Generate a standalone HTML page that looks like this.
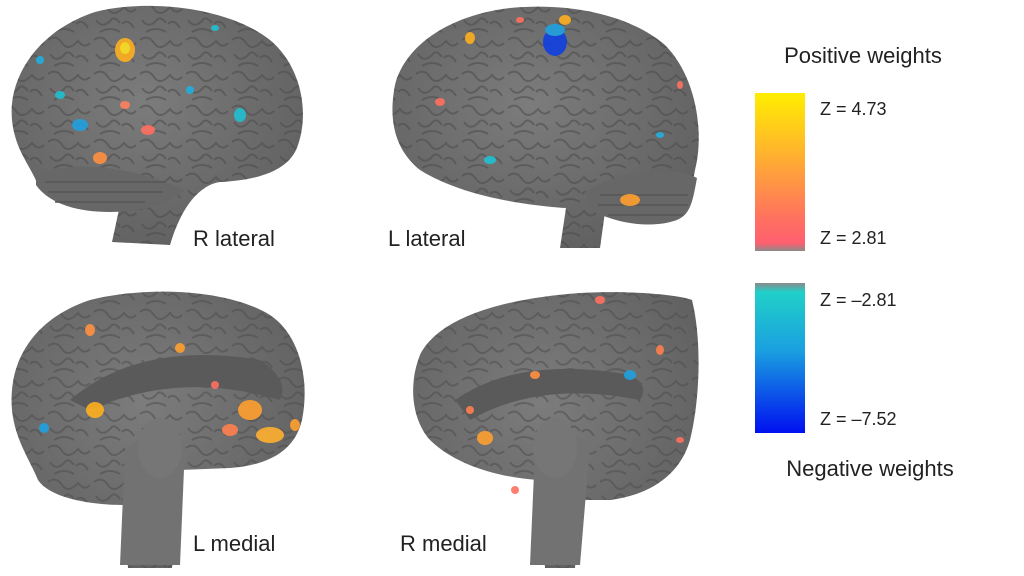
<!DOCTYPE html>
<html><head><meta charset="utf-8"><style>
html,body{margin:0;padding:0;background:#fff;width:1024px;height:576px;overflow:hidden}
svg{display:block}
text{font-family:"Liberation Sans",sans-serif;fill:#222}
</style></head><body>
<svg width="1024" height="576" viewBox="0 0 1024 576">
<defs>
<linearGradient id="pos" x1="0" y1="0" x2="0" y2="1">
<stop offset="0" stop-color="#ffee00"/><stop offset="0.4" stop-color="#ffb030"/><stop offset="0.8" stop-color="#ff7060"/><stop offset="0.95" stop-color="#ff6070"/><stop offset="1" stop-color="#8a8a8a"/></linearGradient>
<linearGradient id="neg" x1="0" y1="0" x2="0" y2="1">
<stop offset="0" stop-color="#8a8a8a"/><stop offset="0.06" stop-color="#20d0c8"/><stop offset="0.45" stop-color="#1aa0e0"/><stop offset="1" stop-color="#0010f0"/></linearGradient>
<pattern id="sulci" width="46" height="34" patternUnits="userSpaceOnUse">
<path d="M2 6 q8 -6 14 3 t16 -2 q6 8 12 2 M4 20 q6 9 14 1 q4 -6 10 2 M30 24 q6 -6 12 4 M8 32 q10 -6 20 0" stroke="#4e4e4e" stroke-width="2" fill="none"/>
</pattern>
<radialGradient id="shade" cx="0.45" cy="0.4" r="0.7"><stop offset="0" stop-color="#7c7c7c"/><stop offset="1" stop-color="#5e5e5e"/></radialGradient>
</defs>

<!-- R lateral -->
<g>
<path id="b1" d="M112 242 L120 205 C90 212 50 205 38 185 C30 165 15 150 12 120 C8 75 40 30 95 12 C150 -2 230 8 270 40 C300 65 310 110 298 145 C290 170 260 180 220 182 C200 185 182 205 170 245 Z" fill="url(#shade)"/>
<path d="M112 242 L120 205 C90 212 50 205 38 185 C30 165 15 150 12 120 C8 75 40 30 95 12 C150 -2 230 8 270 40 C300 65 310 110 298 145 C290 170 260 180 220 182 C200 185 182 205 170 245 Z" fill="url(#sulci)" opacity="0.6"/>
<path d="M36 175 C70 160 130 165 185 190 C170 205 140 212 110 212 C80 212 50 205 36 185Z" fill="#676767"/>
<path d="M45 182 h120 M48 192 h115 M55 202 h90" stroke="#565656" stroke-width="1.5"/>
<g opacity="0.9">
<ellipse cx="125" cy="50" rx="10" ry="12" fill="#ffb020"/><ellipse cx="125" cy="48" rx="5" ry="6" fill="#ffe020"/>
<ellipse cx="100" cy="158" rx="7" ry="6" fill="#ff9040"/><ellipse cx="148" cy="130" rx="7" ry="5" fill="#ff7060"/>
<ellipse cx="80" cy="125" rx="8" ry="6" fill="#20a0e0"/><ellipse cx="60" cy="95" rx="5" ry="4" fill="#20c0d0"/>
<ellipse cx="240" cy="115" rx="6" ry="7" fill="#20c0d0"/><ellipse cx="190" cy="90" rx="4" ry="4" fill="#20b0e0"/>
<ellipse cx="125" cy="105" rx="5" ry="4" fill="#ff8060"/><ellipse cx="40" cy="60" rx="4" ry="4" fill="#20b0e0"/>
<ellipse cx="215" cy="28" rx="4" ry="3" fill="#20c0d0"/>
</g>
</g>
<text x="193" y="246" font-size="22">R lateral</text>

<!-- L lateral -->
<g>
<path d="M560 248 L566 208 C520 205 460 195 420 170 C395 150 388 120 395 85 C405 45 450 15 510 8 C570 2 630 15 665 45 C695 75 705 130 695 170 C690 195 690 215 670 222 C645 228 620 222 605 212 L600 248 Z" fill="url(#shade)"/>
<path d="M560 248 L566 208 C520 205 460 195 420 170 C395 150 388 120 395 85 C405 45 450 15 510 8 C570 2 630 15 665 45 C695 75 705 130 695 170 C690 195 690 215 670 222 C645 228 620 222 605 212 L600 248 Z" fill="url(#sulci)" opacity="0.6"/>
<path d="M585 192 C620 170 670 165 697 178 C692 205 690 218 670 222 C640 228 615 222 590 210Z" fill="#676767"/>
<path d="M600 195 h88 M598 205 h90 M608 215 h75" stroke="#565656" stroke-width="1.5"/>
<g opacity="0.9">
<ellipse cx="555" cy="42" rx="12" ry="14" fill="#1040e0"/><ellipse cx="555" cy="30" rx="10" ry="6" fill="#20a0e0"/>
<ellipse cx="565" cy="20" rx="6" ry="5" fill="#ffb020"/><ellipse cx="470" cy="38" rx="5" ry="6" fill="#ffb020"/>
<ellipse cx="630" cy="200" rx="10" ry="6" fill="#ffa030"/><ellipse cx="440" cy="102" rx="5" ry="4" fill="#ff7060"/>
<ellipse cx="490" cy="160" rx="6" ry="4" fill="#20c0d0"/><ellipse cx="680" cy="85" rx="3" ry="4" fill="#ff7060"/>
<ellipse cx="660" cy="135" rx="4" ry="3" fill="#20b0e0"/><ellipse cx="520" cy="20" rx="4" ry="3" fill="#ff7060"/>
</g>
</g>
<text x="388" y="246" font-size="22">L lateral</text>

<!-- L medial -->
<g>
<path d="M128 568 L125 505 C90 505 50 498 38 480 C30 460 15 440 12 410 C8 365 30 320 90 300 C150 285 230 290 270 315 C300 335 310 380 302 420 C295 450 270 465 230 468 L180 470 L172 568 Z" fill="url(#shade)"/>
<path d="M128 568 L125 505 C90 505 50 498 38 480 C30 460 15 440 12 410 C8 365 30 320 90 300 C150 285 230 290 270 315 C300 335 310 380 302 420 C295 450 270 465 230 468 L180 470 L172 568 Z" fill="url(#sulci)" opacity="0.55"/>
<path d="M70 400 Q140 340 260 360 Q290 380 280 400 Q180 370 90 410Z" fill="#5a5a5a"/>
<path d="M120 565 L125 450 Q160 420 185 445 L180 565Z" fill="#727272"/>
<ellipse cx="160" cy="448" rx="22" ry="30" fill="#767676"/>
<g opacity="0.9">
<ellipse cx="95" cy="410" rx="9" ry="8" fill="#ffb020"/><ellipse cx="250" cy="410" rx="12" ry="10" fill="#ffa030"/>
<ellipse cx="270" cy="435" rx="14" ry="8" fill="#ffb030"/><ellipse cx="230" cy="430" rx="8" ry="6" fill="#ff8050"/>
<ellipse cx="90" cy="330" rx="5" ry="6" fill="#ff9040"/><ellipse cx="180" cy="348" rx="5" ry="5" fill="#ffa030"/>
<ellipse cx="44" cy="428" rx="5" ry="5" fill="#20a0e0"/><ellipse cx="215" cy="385" rx="4" ry="4" fill="#ff7060"/>
<ellipse cx="295" cy="425" rx="5" ry="6" fill="#ffa030"/>
</g>
</g>
<text x="193" y="551" font-size="22">L medial</text>

<!-- R medial -->
<g>
<path d="M545 568 L540 480 C500 478 455 465 430 440 C412 420 408 385 420 355 C440 315 510 298 580 293 C630 290 680 295 692 300 C702 340 700 400 690 440 C680 475 650 495 610 500 L580 500 L575 568 Z" fill="url(#shade)"/>
<path d="M545 568 L540 480 C500 478 455 465 430 440 C412 420 408 385 420 355 C440 315 510 298 580 293 C630 290 680 295 692 300 C702 340 700 400 690 440 C680 475 650 495 610 500 L580 500 L575 568 Z" fill="url(#sulci)" opacity="0.55"/>
<path d="M455 400 Q520 355 630 375 Q650 385 640 400 Q540 380 470 420Z" fill="#5a5a5a"/>
<path d="M530 565 L535 450 Q560 420 590 445 L580 565Z" fill="#727272"/>
<ellipse cx="555" cy="448" rx="22" ry="30" fill="#767676"/>
<g opacity="0.9">
<ellipse cx="485" cy="438" rx="8" ry="7" fill="#ffa030"/><ellipse cx="535" cy="375" rx="5" ry="4" fill="#ff9040"/>
<ellipse cx="630" cy="375" rx="6" ry="5" fill="#20a0e0"/><ellipse cx="600" cy="300" rx="5" ry="4" fill="#ff7060"/>
<ellipse cx="470" cy="410" rx="4" ry="4" fill="#ff8050"/><ellipse cx="660" cy="350" rx="4" ry="5" fill="#ff8050"/>
<ellipse cx="515" cy="490" rx="4" ry="4" fill="#ff7060"/><ellipse cx="680" cy="440" rx="4" ry="3" fill="#ff7060"/>
</g>
</g>
<text x="400" y="551" font-size="22">R medial</text>

<!-- colorbars -->
<rect x="755" y="93" width="50" height="158" fill="url(#pos)"/>
<rect x="755" y="283" width="50" height="150" fill="url(#neg)"/>
<text x="863" y="63" font-size="22" text-anchor="middle">Positive weights</text>
<text x="820" y="115" font-size="18">Z = 4.73</text>
<text x="820" y="244" font-size="18">Z = 2.81</text>
<text x="820" y="306" font-size="18">Z = –2.81</text>
<text x="820" y="425" font-size="18">Z = –7.52</text>
<text x="870" y="476" font-size="22" text-anchor="middle">Negative weights</text>
</svg>
</body></html>
